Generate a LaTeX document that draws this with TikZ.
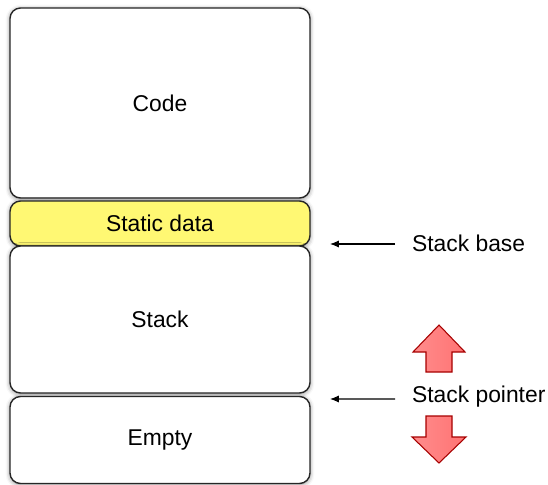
\documentclass[tikz,border=0pt]{standalone}
\usepackage{fontspec}
\setmainfont{Liberation Sans}
\usetikzlibrary{shadows.blur,arrows.meta}

\tikzset{
  segment/.style={draw=black!85, line width=0.8pt, rounded corners=6pt, fill=white,
    minimum width=6cm, inner sep=0pt,
    blur shadow={shadow xshift=0pt, shadow yshift=-0.6pt, shadow blur radius=2.5pt, shadow opacity=45}},
  pointer/.style={-{Latex[length=5pt,width=4pt]}, line width=0.6pt},
  bigarrow/.style={draw=red!65!black, line width=0.6pt, left color=red!45, right color=red!55!white}
}

\begin{document}
\begin{tikzpicture}[font=\fontsize{13}{15}\selectfont]
	\useasboundingbox (0,0) rectangle (10.96,-9.7);
	% memory segments, top to bottom
	\node[segment, minimum height=3.8cm] (code) at (3.2,-2.06) {Code};
	\node[segment, minimum height=0.9cm, fill=yellow!55!white] (static) at (3.2,-4.47) {Static data};
	\node[segment, minimum height=2.94cm] (stack) at (3.2,-6.39) {Stack};
	\node[segment, minimum height=1.74cm] (empty) at (3.2,-8.8) {Empty};
	% labels on the right
	\node[anchor=west, inner sep=1pt] (base) at (8.2,-4.86) {Stack base};
	\node[anchor=west, inner sep=1pt] (sp) at (8.2,-7.94) {Stack pointer};
	\coordinate (basetip) at (6.6,-4.88);
	\coordinate (sptip) at (6.6,-7.98);
	\draw[pointer] (base.west) ++(-0.3,-0.02) -- (basetip);
	\draw[pointer] (sp.west) ++(-0.3,-0.04) -- (sptip);
	% grow / shrink arrows
	\draw[bigarrow] (8.26,-7.04) -- (8.78,-6.5) -- (9.3,-7.04) -- (9.04,-7.04) -- (9.04,-7.44)
		-- (8.52,-7.44) -- (8.52,-7.04) -- cycle;
	\draw[bigarrow] (8.52,-8.32) -- (9.04,-8.32) -- (9.04,-8.74) -- (9.32,-8.74) -- (8.78,-9.26)
		-- (8.24,-8.74) -- (8.52,-8.74) -- cycle;
\end{tikzpicture}
\end{document}
